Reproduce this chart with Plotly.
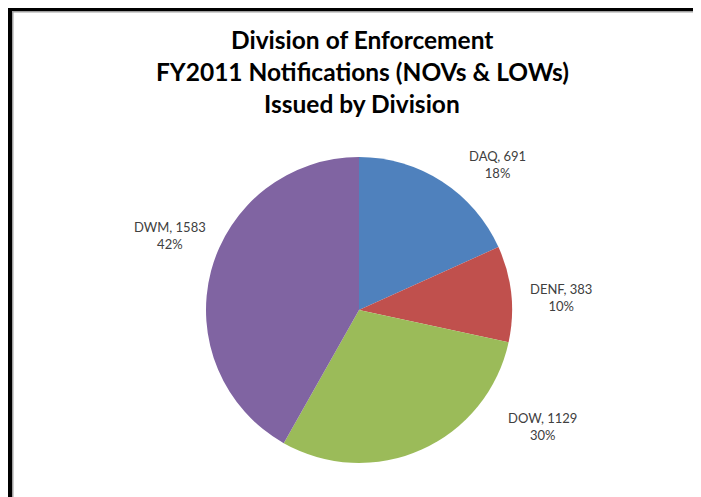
import plotly.graph_objects as go

divisions = ["DAQ", "DENF", "DOW", "DWM"]
counts = [691, 383, 1129, 1583]
colors = ["#4F81BD", "#C0504D", "#9BBB59", "#8064A2"]
title_lines = ["Division of Enforcement", "FY2011 Notifications (NOVs & LOWs)", "Issued by Division"]

W, H = 701, 497
OFF = 8  # page body margin offset
total = sum(counts)
pcts = [round(100 * c / total) for c in counts]

def px(x):
    return (x - OFF) / W

def py(y):
    return 1 - (y - OFF) / H

cx, cy, r = 359, 310, 153

fig = go.Figure(go.Pie(
    labels=divisions, values=counts, sort=False, direction="clockwise", rotation=0,
    marker=dict(colors=colors, line=dict(width=0)),
    textinfo="none", hoverinfo="label+value+percent",
    domain=dict(x=[px(cx - r), px(cx + r)], y=[py(cy + r), py(cy - r)]),
    showlegend=False,
))

# label centre positions (screen pixel) per slice
label_pos = [(498, 165), (561, 297), (542, 426), (170, 235)]
annotations = []
for d, c, p, (x, y) in zip(divisions, counts, pcts, label_pos):
    annotations.append(dict(
        x=px(x), y=py(y), xref="paper", yref="paper", xanchor="center", yanchor="middle",
        text=f"{d}, {c}<br>{p}%", align="center", showarrow=False,
        font=dict(family="Lato, Open Sans, sans-serif", size=13, color="#404040"),
    ))
for i, (line, y) in enumerate(zip(title_lines, [40, 72, 103])):
    annotations.append(dict(
        x=px(362), y=py(y), xref="paper", yref="paper", xanchor="center", yanchor="middle",
        text=f"<b>{line}</b>", showarrow=False,
        font=dict(family="Lato, Open Sans, sans-serif", size=24.5, color="#000000"),
    ))

shapes = [
    dict(type="rect", xref="paper", yref="paper", x0=px(8), x1=px(W + 20), y0=py(11), y1=py(0),
         fillcolor="black", line=dict(width=0), layer="above"),
    dict(type="rect", xref="paper", yref="paper", x0=px(12), x1=px(W + 20), y0=py(12.5), y1=py(11),
         fillcolor="#a0a0a0", line=dict(width=0), layer="above"),
    dict(type="rect", xref="paper", yref="paper", x0=px(8), x1=px(12), y0=py(H + 20), y1=py(0),
         fillcolor="black", line=dict(width=0), layer="above"),
    dict(type="rect", xref="paper", yref="paper", x0=px(12), x1=px(13.5), y0=py(H + 20), y1=py(11),
         fillcolor="#a0a0a0", line=dict(width=0), layer="above"),
]

fig.update_layout(
    width=W, height=H, margin=dict(l=0, r=0, t=0, b=0),
    paper_bgcolor="white", plot_bgcolor="white",
    annotations=annotations, shapes=shapes,
)
fig.write_html("out.html")
